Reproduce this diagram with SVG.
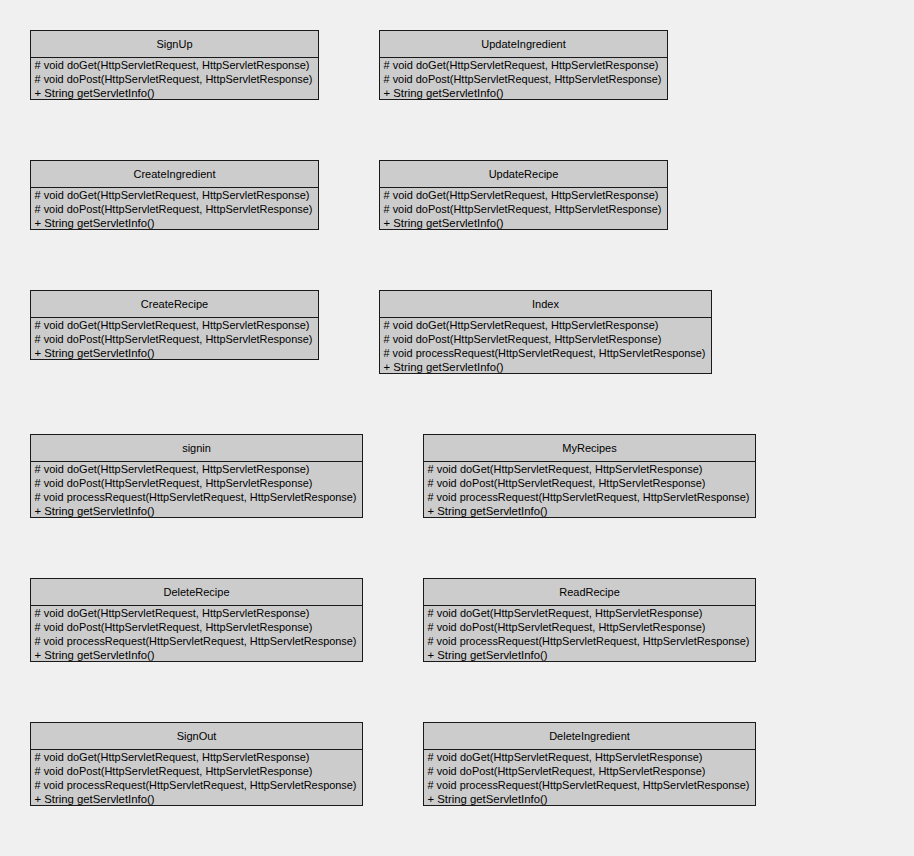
<svg xmlns="http://www.w3.org/2000/svg" width="914" height="856" viewBox="0 0 914 856">
<style>
.bg{fill:#f0f0f0}
.box{fill:#cccccc;stroke:#1a1a1a;stroke-width:1}
.sep{stroke:#1a1a1a;stroke-width:1}
text{font-family:"Liberation Sans",Arial,sans-serif;font-size:11px;fill:#000}
.t{text-anchor:middle}
</style>
<defs>
<text id="g" x="4" y="38.5" textLength="275" lengthAdjust="spacingAndGlyphs"># void doGet(HttpServletRequest, HttpServletResponse)</text>
<text id="p" x="4" y="52.5" textLength="278" lengthAdjust="spacingAndGlyphs"># void doPost(HttpServletRequest, HttpServletResponse)</text>
<text id="r" x="4" y="66.5" textLength="322" lengthAdjust="spacingAndGlyphs"># void processRequest(HttpServletRequest, HttpServletResponse)</text>
<text id="i3" x="4" y="66.5" textLength="120" lengthAdjust="spacingAndGlyphs">+ String getServletInfo()</text>
<text id="i4" x="4" y="80.5" textLength="120" lengthAdjust="spacingAndGlyphs">+ String getServletInfo()</text>
</defs>
<rect class="bg" x="0" y="0" width="914" height="856"/>
<g id="connectors"/>
<g id="SignUp" transform="translate(30.5,30.5)">
<rect class="box" width="288" height="69"/><line class="sep" x1="0" y1="27" x2="288" y2="27"/>
<text class="t" x="144" y="17.5">SignUp</text>
<use href="#g"/><use href="#p"/><use href="#i3"/>
</g>
<g id="UpdateIngredient" transform="translate(379.5,30.5)">
<rect class="box" width="288" height="69"/><line class="sep" x1="0" y1="27" x2="288" y2="27"/>
<text class="t" x="144" y="17.5">UpdateIngredient</text>
<use href="#g"/><use href="#p"/><use href="#i3"/>
</g>
<g id="CreateIngredient" transform="translate(30.5,160.5)">
<rect class="box" width="288" height="69"/><line class="sep" x1="0" y1="27" x2="288" y2="27"/>
<text class="t" x="144" y="17.5">CreateIngredient</text>
<use href="#g"/><use href="#p"/><use href="#i3"/>
</g>
<g id="UpdateRecipe" transform="translate(379.5,160.5)">
<rect class="box" width="288" height="69"/><line class="sep" x1="0" y1="27" x2="288" y2="27"/>
<text class="t" x="144" y="17.5">UpdateRecipe</text>
<use href="#g"/><use href="#p"/><use href="#i3"/>
</g>
<g id="CreateRecipe" transform="translate(30.5,290.5)">
<rect class="box" width="288" height="69"/><line class="sep" x1="0" y1="27" x2="288" y2="27"/>
<text class="t" x="144" y="17.5">CreateRecipe</text>
<use href="#g"/><use href="#p"/><use href="#i3"/>
</g>
<g id="Index" transform="translate(379.5,290.5)">
<rect class="box" width="332" height="83"/><line class="sep" x1="0" y1="27" x2="332" y2="27"/>
<text class="t" x="166" y="17.5">Index</text>
<use href="#g"/><use href="#p"/><use href="#r"/><use href="#i4"/>
</g>
<g id="signin" transform="translate(30.5,434.5)">
<rect class="box" width="332" height="83"/><line class="sep" x1="0" y1="27" x2="332" y2="27"/>
<text class="t" x="166" y="17.5">signin</text>
<use href="#g"/><use href="#p"/><use href="#r"/><use href="#i4"/>
</g>
<g id="MyRecipes" transform="translate(423.5,434.5)">
<rect class="box" width="332" height="83"/><line class="sep" x1="0" y1="27" x2="332" y2="27"/>
<text class="t" x="166" y="17.5">MyRecipes</text>
<use href="#g"/><use href="#p"/><use href="#r"/><use href="#i4"/>
</g>
<g id="DeleteRecipe" transform="translate(30.5,578.5)">
<rect class="box" width="332" height="83"/><line class="sep" x1="0" y1="27" x2="332" y2="27"/>
<text class="t" x="166" y="17.5">DeleteRecipe</text>
<use href="#g"/><use href="#p"/><use href="#r"/><use href="#i4"/>
</g>
<g id="ReadRecipe" transform="translate(423.5,578.5)">
<rect class="box" width="332" height="83"/><line class="sep" x1="0" y1="27" x2="332" y2="27"/>
<text class="t" x="166" y="17.5">ReadRecipe</text>
<use href="#g"/><use href="#p"/><use href="#r"/><use href="#i4"/>
</g>
<g id="SignOut" transform="translate(30.5,722.5)">
<rect class="box" width="332" height="83"/><line class="sep" x1="0" y1="27" x2="332" y2="27"/>
<text class="t" x="166" y="17.5">SignOut</text>
<use href="#g"/><use href="#p"/><use href="#r"/><use href="#i4"/>
</g>
<g id="DeleteIngredient" transform="translate(423.5,722.5)">
<rect class="box" width="332" height="83"/><line class="sep" x1="0" y1="27" x2="332" y2="27"/>
<text class="t" x="166" y="17.5">DeleteIngredient</text>
<use href="#g"/><use href="#p"/><use href="#r"/><use href="#i4"/>
</g>
</svg>
